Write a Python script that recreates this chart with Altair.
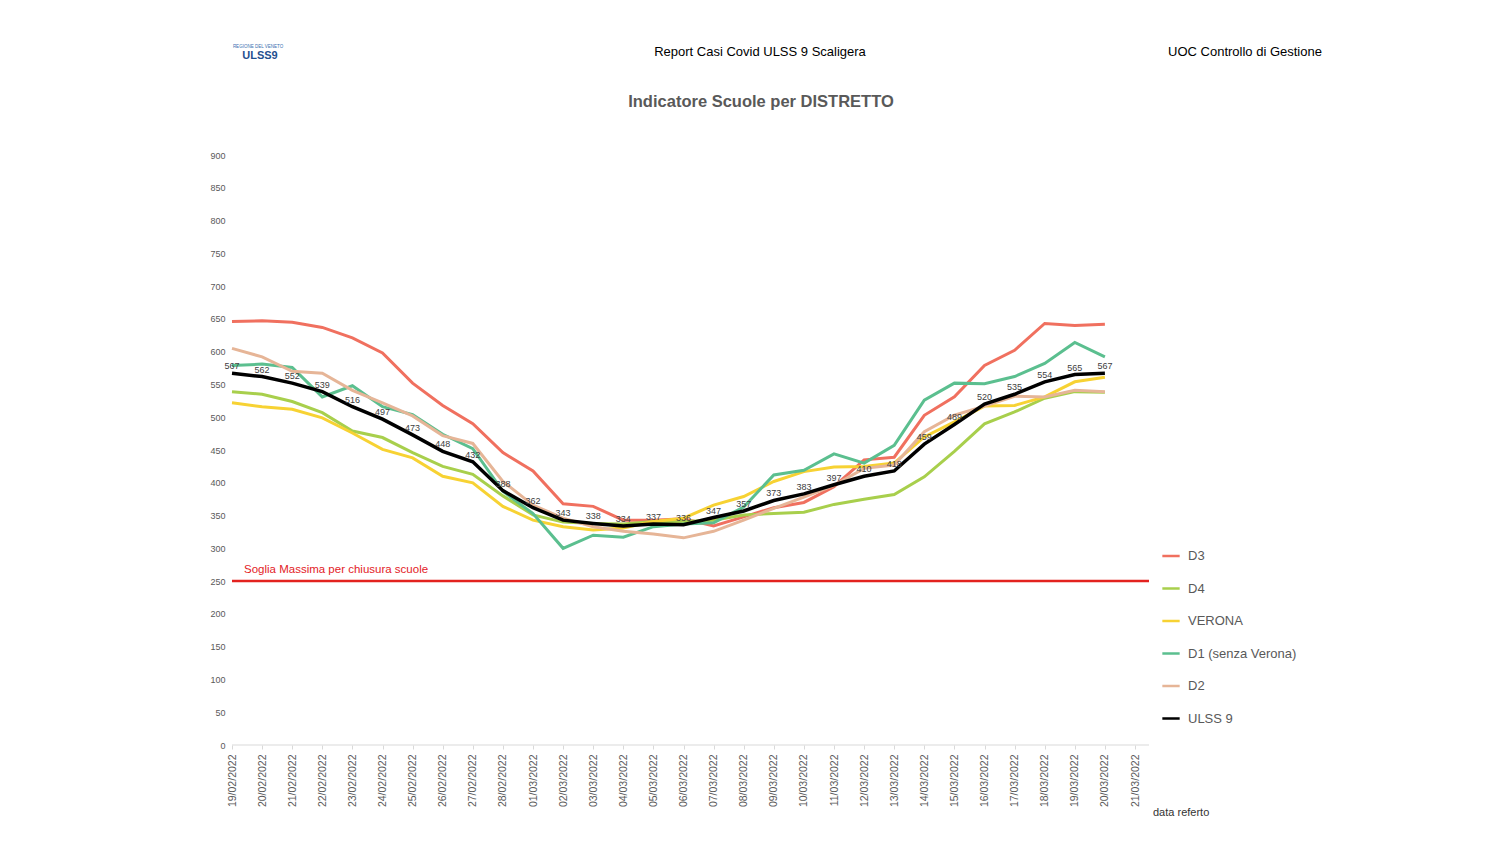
import altair as alt
import pandas as pd

dates = ["19/02/2022", "20/02/2022", "21/02/2022", "22/02/2022", "23/02/2022", "24/02/2022",
         "25/02/2022", "26/02/2022", "27/02/2022", "28/02/2022", "01/03/2022", "02/03/2022",
         "03/03/2022", "04/03/2022", "05/03/2022", "06/03/2022", "07/03/2022", "08/03/2022",
         "09/03/2022", "10/03/2022", "11/03/2022", "12/03/2022", "13/03/2022", "14/03/2022",
         "15/03/2022", "16/03/2022", "17/03/2022", "18/03/2022", "19/03/2022", "20/03/2022",
         "21/03/2022"]

d3 = [646, 647, 645, 637, 621, 598, 552, 518, 490, 446, 418, 368, 364, 343, 343, 345, 334, 348,
      362, 370, 394, 435, 439, 503, 531, 579, 602, 643, 640, 642]
d4 = [539, 535, 524, 507, 479, 469, 446, 425, 413, 380, 351, 340, 338, 337, 341, 341, 343, 351,
      353, 355, 367, 375, 382, 409, 448, 490, 508, 529, 539, 538]
verona = [522, 516, 512, 499, 476, 451, 438, 410, 400, 364, 343, 333, 328, 331, 341, 346, 366, 379,
          402, 417, 424, 425, 430, 470, 493, 517, 518, 531, 554, 561]
d1 = [579, 581, 576, 531, 548, 516, 504, 474, 452, 387, 353, 300, 320, 317, 333, 337, 339, 363,
      412, 419, 444, 430, 457, 526, 552, 551, 562, 582, 614, 592]
d2 = [605, 592, 570, 567, 541, 522, 502, 472, 460, 402, 366, 346, 333, 326, 322, 316, 326, 343,
      361, 378, 396, 422, 427, 478, 503, 517, 532, 531, 541, 539]
ulss9 = [567, 562, 552, 539, 516, 497, 473, 448, 432, 388, 362, 343, 338, 334, 337, 336, 347, 357,
         373, 383, 397, 410, 418, 459, 489, 520, 535, 554, 565, 567]

series_names = ["D3", "D4", "VERONA", "D1 (senza Verona)", "D2", "ULSS 9"]
series_colors = ["#F0705F", "#A8CF4C", "#F7D233", "#5BBF8F", "#E6B597", "#000000"]
threshold = 250
y_ticks = list(range(0, 901, 50))

colored = []
for name, vals in zip(series_names[:5], [d3, d4, verona, d1, d2]):
    for d, v in zip(dates, vals):
        colored.append({"data": d, "serie": name, "valore": v})
df_col = pd.DataFrame(colored)
df_black = pd.DataFrame({"data": dates[:len(ulss9)], "serie": "ULSS 9", "valore": ulss9})
df_thr = pd.DataFrame({"valore": [threshold]})

x = alt.X("data:N", sort=dates,
          scale=alt.Scale(type="point", domain=dates, range=[0, 903], padding=0),
          axis=alt.Axis(title=None, labelAngle=270, labelFontSize=10.5, labelColor="#595959",
                        labelPadding=5, tickSize=4, tickColor="#d9d9d9", domain=False, grid=False,
                        labelOverlap=False))
y_axis = alt.Axis(title=None, values=y_ticks, tickCount=len(y_ticks), labelFontSize=9,
                  labelColor="#595959", ticks=False, domain=False, grid=False, labelPadding=7,
                  labelOverlap=False)
y = alt.Y("valore:Q", scale=alt.Scale(domain=[0, 900], nice=False), axis=y_axis)
color = alt.Color("serie:N", scale=alt.Scale(domain=series_names, range=series_colors),
                  legend=alt.Legend(title=None, orient="none", legendX=929, legendY=391,
                                    symbolType="stroke", symbolSize=300, symbolStrokeWidth=2.5,
                                    labelFontSize=13, labelColor="#595959", rowPadding=15.5,
                                    labelOffset=7))

lines = alt.Chart(df_col).mark_line(strokeWidth=3).encode(x=x, y=y, color=color, detail="serie:N")
black = alt.Chart(df_black).mark_line(strokeWidth=3.5).encode(x=x, y=y, color=color)
labels = alt.Chart(df_black).mark_text(dy=-7, fontSize=9, color="#404040").encode(
    x=x, y=y, text="valore:Q")

one = pd.DataFrame({"k": [0]})
axis_line = alt.Chart(one).mark_rule(color="#d9d9d9", strokeWidth=1).encode(
    x=alt.value(0), x2=alt.value(917), y=alt.value(590))
thr_rule = alt.Chart(df_thr).mark_rule(color="#E3221F", strokeWidth=2.5).encode(
    y=y, x=alt.value(0), x2=alt.value(917))
thr_text = alt.Chart(df_thr).mark_text(
    align="left", baseline="middle", dy=-11, fontSize=11.5, color="#E3221F").encode(
    y=y, x=alt.value(12), text=alt.value("Soglia Massima per chiusura scuole"))

def txt(s, xv, yv, size, color="#000000", weight="normal", align="center"):
    return alt.Chart(one).mark_text(align=align, baseline="middle", fontSize=size, color=color,
                                    fontWeight=weight).encode(
        x=alt.value(xv), y=alt.value(yv), text=alt.value(s))

header = txt("Report Casi Covid ULSS 9 Scaligera", 528, -103, 13)
uoc = txt("UOC Controllo di Gestione", 1013, -103, 13)
title = txt("Indicatore Scuole per DISTRETTO", 529, -53, 16.5, color="#595959", weight="bold")
xtitle = txt("data referto", 921, 658, 11, color="#333333", align="left")
logo1 = txt("REGIONE DEL VENETO", 26, -108, 4.5, color="#3a6fb0")
logo2 = txt("ULSS9", 28, -99, 11, color="#1f4f8f", weight="bold")

chart = alt.layer(
    lines, axis_line, thr_rule, thr_text, black, labels, header, uoc, title, xtitle, logo1, logo2
).properties(
    width=917, height=590,
    autosize=alt.AutoSizeParams(type="none"),
    padding={"left": 224, "top": 147, "right": 340, "bottom": 88},
).configure(font="Liberation Sans").configure_view(stroke=None)

chart.save("out.html", embed_options={"renderer": "svg", "actions": False})
